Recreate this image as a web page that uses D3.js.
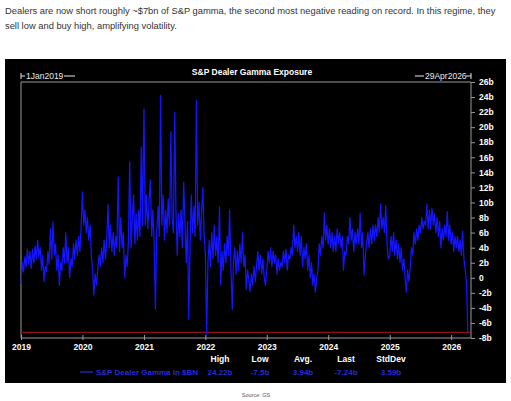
<!DOCTYPE html>
<html><head><meta charset="utf-8">
<script src="https://cdn.jsdelivr.net/npm/d3@7"></script>
<style>
html,body{margin:0;padding:0;background:#fff;}
svg{display:block;font-family:"Liberation Sans",Arial,sans-serif;}
</style></head>
<body>
<svg id="c" width="511" height="401"></svg>
<script>
// ---- data (four samples per month, $bn) ----
const y2019 = [-0.8,2.0,0.8,2.8, 1.5,3.8,1.8,3.5, 1.2,3.8,2.0,4.2, 2.5,5.0,2.8,4.0, 1.0,3.0,-0.5,1.5, 0.8,3.5,1.8,6.5,
               2.5,7.4,3.0,4.5, 1.0,3.0,-1.0,2.0, 1.0,4.0,2.0,6.0, 2.0,4.0,0.0,2.5, 1.5,4.5,2.5,5.0, 3.0,5.5,3.5,6.5];
const y2020 = [11.4,7.0,9.0,6.0, 8.0,5.0,7.0,3.0, 1.0,-2.3,0.5,-1.0, 1.0,3.0,1.5,4.0, 2.0,5.0,2.5,4.5, 9.7,4.0,7.0,3.5,
               6.0,3.0,5.5,4.0, 13.4,3.5,8.0,4.0, 6.0,0.0,3.0,1.5, 5.0,15.4,4.0,8.0, 11.0,4.5,8.5,5.0, 9.0,5.5,17.4,7.0];
const y2021 = [22.4,7.0,11.0,6.5, 10.0,13.0,5.5,9.0, 4.0,-4.2,6.0,9.5, 5.5,24.22,7.0,11.0, 5.0,9.0,6.0,10.5, 7.0,19.4,8.0,6.0,
               22.0,9.0,3.0,8.5, 5.5,9.0,4.0,12.7, 8.0,2.0,7.5,-5.5, 4.0,11.0,6.0,9.5, 5.5,23.6,7.0,10.0, 5.0,8.5,12.0,6.0];
const y2022 = [3.0,-7.5,2.0,5.0, 1.5,6.0,2.5,7.0, 3.0,5.5,2.0,9.4, -1.0,3.5,1.0,4.5, 2.0,5.5,3.0,9.0, 1.0,-4.2,2.0,4.0,
               0.5,3.5,1.0,4.5, 2.0,6.0,1.5,3.0, -1.5,1.0,-0.5,-1.8, 0.5,-1.0,1.5,-0.5, 1.5,3.5,1.0,3.0, 0.5,2.5,0.0,-1.0];
const y2023 = [1.0,3.5,2.0,4.0, 1.5,3.5,2.0,3.0, 0.5,2.5,1.0,2.0, 1.5,3.5,2.0,3.8, 1.0,3.0,2.5,4.0, 3.0,7.0,4.0,5.5,
               3.5,6.0,3.0,5.5, 1.5,4.0,2.5,4.5, 1.0,3.0,0.0,2.0, -1.0,0.5,-1.9,0.0, 1.0,4.5,3.0,5.5, 4.0,8.6,5.0,7.0];
const y2024 = [4.5,6.5,4.0,6.0, 3.5,5.5,3.5,6.5, 4.5,6.0,4.0,5.5, 1.0,3.5,3.0,5.5, 4.5,8.0,5.0,6.5, 3.5,6.0,4.5,6.5,
               4.5,8.6,4.0,6.0, 0.4,3.0,4.5,6.0, 4.0,6.5,4.5,7.0, 5.0,7.0,5.5,8.0, 6.0,9.8,6.5,8.0, 6.0,9.6,4.5,2.5];
const y2025 = [3.0,5.5,3.5,6.0, 3.0,5.0,2.5,4.5, 2.0,4.0,1.0,2.5, 0.0,-1.9,1.0,-0.5, 1.5,4.0,3.0,6.0, 4.5,6.5,5.0,7.0,
               6.0,8.0,6.5,7.5, 7.0,9.8,6.5,9.0, 6.5,9.2,7.0,8.5, 6.0,8.0,5.5,7.5, 4.0,6.5,5.0,7.0, 5.5,8.8,5.0,7.0];
const y2026 = [4.5,6.0,3.5,5.5, 4.0,5.5,3.5,5.0, 3.0,6.2,2.5, 1.0,-0.5,-7.24];
const years = [2019,2020,2021,2022,2023,2024,2025,2026];
const yearSeries = [y2019,y2020,y2021,y2022,y2023,y2024,y2025,y2026];
const yTicks = [26,24,22,20,18,16,14,12,10,8,6,4,2,0,-2,-4,-6,-8];
const statNames = ["High","Low","Avg.","Last","StdDev"];
const statValues = ["24.22b","-7.5b","3.94b","-7.24b","3.59b"];
const lastValue = -7.24;
const headline = ["Dealers are now short roughly ~$7bn of S&P gamma, the second most negative reading on record. In this regime, they",
                  "sell low and buy high, amplifying volatility."];
const chartTitle = "S&P Dealer Gamma Exposure";
const startLabel = "1Jan2019", endLabel = "29Apr2026";
const seriesName = "S&P Dealer Gamma in $BN";
const sourceText = "Source: GS";

// ---- build table ----
const data = [];
yearSeries.forEach((arr, k) => {
  arr.forEach((v, i) => {
    data.push({date: new Date(years[k], 0, 1 + Math.round(i * 365 / 48)), v});
  });
});

const svg = d3.select("#c");
const L = 21, R = 471, T = 82, B = 338;

// headline
svg.selectAll("text.hl").data(headline).join("text")
  .attr("x", 5).attr("y", (d,i) => 14 + i*14.5)
  .attr("font-size", 9.35).attr("fill", "#333").text(d => d);

// black panel
svg.append("rect").attr("x", 5).attr("y", 59).attr("width", 501).attr("height", 324).attr("fill", "#000");

const x = d3.scaleTime().domain([new Date(2019,0,1), new Date(2026,3,29)]).range([L, R]);
const y = d3.scaleLinear().domain([-8, 26]).range([B, T]);

// frame lines
const gray = "#9a9a9a";
svg.append("line").attr("x1", L).attr("x2", R).attr("y1", T).attr("y2", T).attr("stroke", gray);
svg.append("line").attr("x1", L).attr("x2", L).attr("y1", T).attr("y2", B).attr("stroke", gray);

// right axis
const ya = svg.append("g").attr("transform", `translate(${R},0)`)
  .call(d3.axisRight(y).tickValues(yTicks).tickSize(4).tickPadding(4)
    .tickFormat(d => d === 0 ? "0" : d + "b"));
ya.select(".domain").attr("stroke", gray).attr("d", `M0,${T}V${B}`);
ya.selectAll(".tick line").attr("stroke", gray);
ya.selectAll(".tick text").attr("fill", "#fff").attr("font-size", 8.5).attr("font-weight", "bold")
  .attr("font-family", "Liberation Sans, Arial, sans-serif");

// bottom axis
const xa = svg.append("g").attr("transform", `translate(0,${B})`)
  .call(d3.axisBottom(x).tickValues(years.map(yr => new Date(yr,0,1))).tickSize(3).tickPadding(3)
    .tickFormat(d3.timeFormat("%Y")));
xa.select(".domain").attr("stroke", gray).attr("d", `M${L},0H${R}`);
xa.selectAll(".tick line").attr("stroke", gray).attr("y1", -3).attr("y2", 2);
xa.selectAll(".tick text").attr("fill", "#fff").attr("font-size", 8.5).attr("font-weight", "bold")
  .attr("font-family", "Liberation Sans, Arial, sans-serif");

// red last line
svg.append("line").attr("x1", L).attr("x2", R).attr("y1", y(lastValue)).attr("y2", y(lastValue))
  .attr("stroke", "#b01818").attr("stroke-width", 1);

// series line (drawn on top)
svg.append("path").datum(data)
  .attr("d", d3.line().x(d => x(d.date)).y(d => y(d.v)))
  .attr("fill", "none").attr("stroke", "#1414ff").attr("stroke-width", 1.25).attr("stroke-linejoin", "round");

// title
svg.append("text").attr("x", 252).attr("y", 75).attr("text-anchor", "middle")
  .attr("fill", "#fff").attr("font-size", 8.5).attr("font-weight", "bold").text(chartTitle);

// start / end labels with brackets
const lab = "#e8e8e8";
svg.append("line").attr("x1", L).attr("x2", L).attr("y1", 73).attr("y2", 79).attr("stroke", lab);
svg.append("line").attr("x1", L).attr("x2", 25).attr("y1", 76).attr("y2", 76).attr("stroke", lab);
svg.append("text").attr("x", 26).attr("y", 79).attr("fill", lab).attr("font-size", 8.5).text(startLabel);
svg.append("line").attr("x1", 64).attr("x2", 75).attr("y1", 76).attr("y2", 76).attr("stroke", lab);
svg.append("line").attr("x1", 415).attr("x2", 424).attr("y1", 76).attr("y2", 76).attr("stroke", lab);
svg.append("text").attr("x", 425).attr("y", 79).attr("fill", lab).attr("font-size", 8.5).text(endLabel);
svg.append("line").attr("x1", 466).attr("x2", R).attr("y1", 76).attr("y2", 76).attr("stroke", lab);
svg.append("line").attr("x1", R).attr("x2", R).attr("y1", 73).attr("y2", 79).attr("stroke", lab);

// stats
const statX = [220, 260, 303, 346, 391];
svg.selectAll("text.sn").data(statNames).join("text")
  .attr("x", (d,i) => statX[i]).attr("y", 362).attr("text-anchor", "middle")
  .attr("fill", "#fff").attr("font-size", 8.5).attr("font-weight", "bold").text(d => d);
svg.selectAll("text.sv").data(statValues).join("text")
  .attr("x", (d,i) => statX[i]).attr("y", 375).attr("text-anchor", "middle")
  .attr("fill", "#2a2ad8").attr("font-size", 8).attr("font-weight", "bold").text(d => d);

// legend
svg.append("line").attr("x1", 80).attr("x2", 93).attr("y1", 372).attr("y2", 372).attr("stroke", "#2a2ad8").attr("stroke-width", 1.2);
svg.append("text").attr("x", 96).attr("y", 375).attr("fill", "#2a2ad8").attr("font-size", 8)
  .attr("font-weight", "bold").text(seriesName);

// source
svg.append("text").attr("x", 256).attr("y", 397).attr("text-anchor", "middle")
  .attr("fill", "#555").attr("font-size", 5.5).text(sourceText);
</script>
</body></html>
